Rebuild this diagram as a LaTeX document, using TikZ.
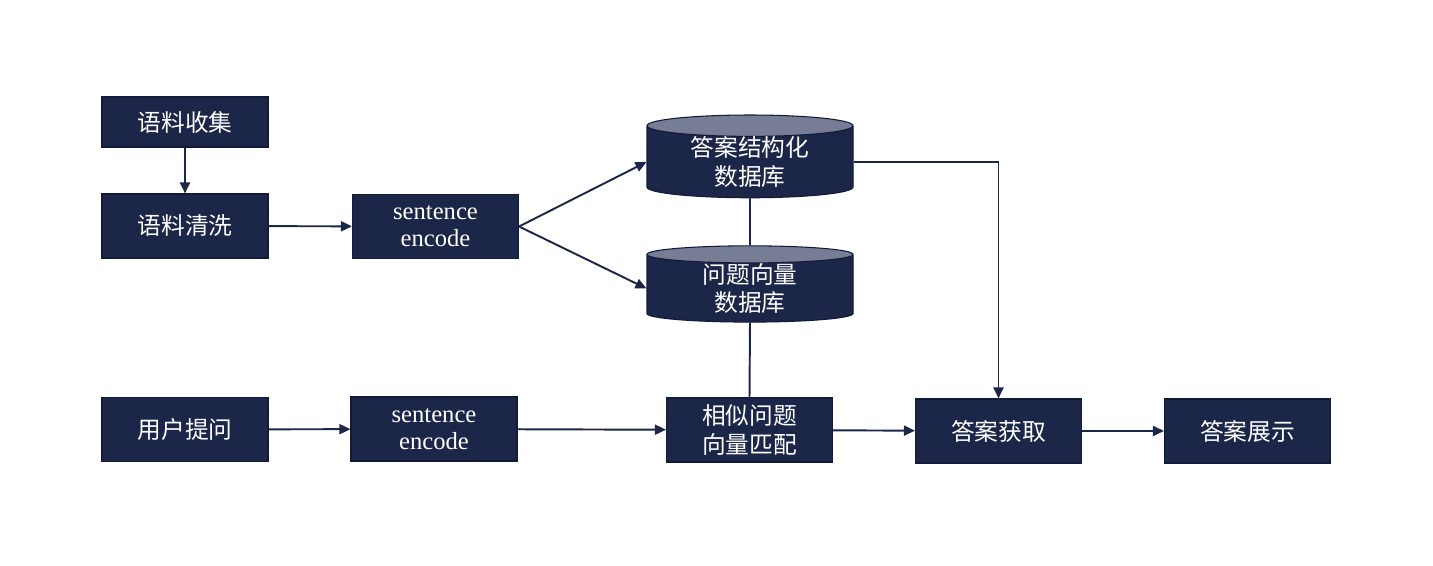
\documentclass[tikz,border=0pt]{standalone}
\usepackage{fontspec}
\newfontfamily\cjk{Noto Sans CJK SC}
\newfontfamily\encfont{Liberation Serif}
\usepackage{xcolor}
\definecolor{NavyFill}{HTML}{1C2648}
\definecolor{NavyEdge}{HTML}{121A38}
\definecolor{DbTop}{HTML}{767D94}
\usepackage{tikz}
\usetikzlibrary{arrows.meta, shapes.geometric}

\begin{document}
\begin{tikzpicture}[>={Triangle[length=0.22cm,width=0.2cm]}, line width=1.1pt,
  box/.style={draw=NavyEdge, fill=NavyFill, line width=0.6pt, text=white,
    minimum width=3.32cm, minimum height=1.28cm, align=center, inner sep=0pt,
    font=\cjk\fontsize{13.5}{16}\selectfont},
  encbox/.style={box, font=\encfont\fontsize{14}{15.4}\selectfont},
  db/.style={box, fill=none, cylinder, shape border rotate=90, aspect=0.18,
    cylinder uses custom fill, cylinder body fill=NavyFill, cylinder end fill=DbTop,
    minimum width=4.12cm, minimum height=1.5cm},
  link/.style={draw=NavyFill, ->},
  tie/.style={draw=NavyFill}]
  % Canvas
  \useasboundingbox (0,0) rectangle (28.66,11.32);

  % Corpus branch
  \node[box, minimum height=1.0cm] (collect) at (3.70,8.88) {语料收集};
  \node[box] (clean) at (3.70,6.80) {语料清洗};
  \node[encbox] (encA) at (8.71,6.79) {sentence\\encode};

  % Databases
  \node[db] (dbAns) at (15.00,8.08) {答案结构化\\数据库};
  \node[db] (dbQue) at (15.00,5.55) {问题向量\\数据库};

  % Query branch
  \node[box] (ask) at (3.70,2.73) {用户提问};
  \node[encbox] (encB) at (8.68,2.74) {sentence\\encode};
  \node[box] (match) at (14.99,2.72) {相似问题\\向量匹配};
  \node[box] (fetch) at (19.97,2.70) {答案获取};
  \node[box] (show) at (24.95,2.70) {答案展示};

  % Connectors
  \draw[link] (collect) -- (clean);
  \draw[link] (clean) -- (encA);
  \draw[link] (encA.east) -- (dbAns.west);
  \draw[link] (encA.east) -- (dbQue.west);
  \draw[tie] (dbAns.south) -- (dbQue.north);
  \draw[tie] (dbQue.south) -- (match.north);
  \draw[link] (ask) -- (encB);
  \draw[link] (encB) -- (match);
  \draw[link] (match) -- (fetch);
  \draw[link] (fetch) -- (show);
  \draw[link] (dbAns.east) -| (fetch.north);
\end{tikzpicture}
\end{document}
